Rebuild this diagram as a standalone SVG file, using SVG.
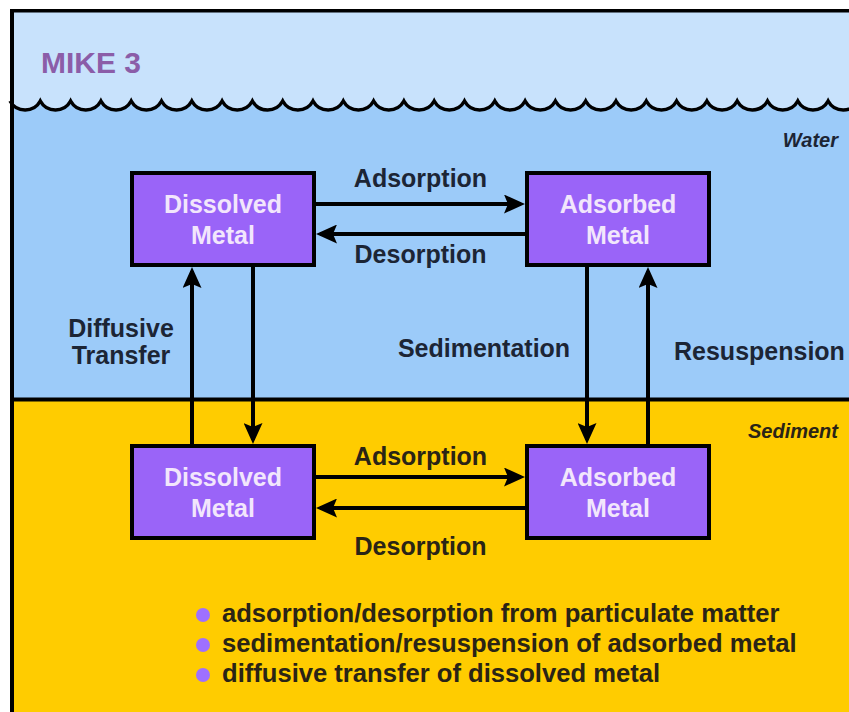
<svg xmlns="http://www.w3.org/2000/svg" width="849" height="712" viewBox="0 0 849 712">
<defs>
<style>
.box{fill:#9A64F8;stroke:#000;stroke-width:4}
.bt{font-family:"Liberation Sans",Arial,sans-serif;font-weight:bold;font-size:25px;fill:#F2E6FC;text-anchor:middle}
.lbl{font-family:"Liberation Sans",Arial,sans-serif;font-weight:bold;font-size:25px;fill:#1C2535}
.lbs{font-family:"Liberation Sans",Arial,sans-serif;font-weight:bold;font-size:25px;fill:#2A2416}
.leg{font-family:"Liberation Sans",Arial,sans-serif;font-weight:bold;font-size:25.6px;fill:#2A2416}
.zone{font-family:"Liberation Sans",Arial,sans-serif;font-weight:bold;font-style:italic;font-size:20px;text-anchor:end}
.conn path{fill:none;stroke:#000;stroke-width:4;marker-end:url(#ah)}
.bul{fill:#9E70FF}
</style>
<marker id="ah" viewBox="0 0 21 19" markerWidth="21" markerHeight="19" refX="17" refY="9.5" orient="auto" markerUnits="userSpaceOnUse">
<path d="M0,0 L21,9.5 L0,19 L4,9.5 Z" fill="#000"/>
</marker>
</defs>
<rect x="0" y="0" width="849" height="712" fill="#fff"/>
<g id="background">
<rect x="12" y="10" width="837" height="102" fill="#C8E2FC"/>
<path d="M10,101 a17.25,17.25 0 0 0 30.3,0 a17.25,17.25 0 0 0 30.3,0 a17.25,17.25 0 0 0 30.3,0 a17.25,17.25 0 0 0 30.3,0 a17.25,17.25 0 0 0 30.3,0 a17.25,17.25 0 0 0 30.3,0 a17.25,17.25 0 0 0 30.3,0 a17.25,17.25 0 0 0 30.3,0 a17.25,17.25 0 0 0 30.3,0 a17.25,17.25 0 0 0 30.3,0 a17.25,17.25 0 0 0 30.3,0 a17.25,17.25 0 0 0 30.3,0 a17.25,17.25 0 0 0 30.3,0 a17.25,17.25 0 0 0 30.3,0 a17.25,17.25 0 0 0 30.3,0 a17.25,17.25 0 0 0 30.3,0 a17.25,17.25 0 0 0 30.3,0 a17.25,17.25 0 0 0 30.3,0 a17.25,17.25 0 0 0 30.3,0 a17.25,17.25 0 0 0 30.3,0 a17.25,17.25 0 0 0 30.3,0 a17.25,17.25 0 0 0 30.3,0 a17.25,17.25 0 0 0 30.3,0 a17.25,17.25 0 0 0 30.3,0 a17.25,17.25 0 0 0 30.3,0 a17.25,17.25 0 0 0 30.3,0 a17.25,17.25 0 0 0 30.3,0 a17.25,17.25 0 0 0 30.3,0 L860,400 L10,400 Z" fill="#9CCBF9"/>
<path d="M10,101 a17.25,17.25 0 0 0 30.3,0 a17.25,17.25 0 0 0 30.3,0 a17.25,17.25 0 0 0 30.3,0 a17.25,17.25 0 0 0 30.3,0 a17.25,17.25 0 0 0 30.3,0 a17.25,17.25 0 0 0 30.3,0 a17.25,17.25 0 0 0 30.3,0 a17.25,17.25 0 0 0 30.3,0 a17.25,17.25 0 0 0 30.3,0 a17.25,17.25 0 0 0 30.3,0 a17.25,17.25 0 0 0 30.3,0 a17.25,17.25 0 0 0 30.3,0 a17.25,17.25 0 0 0 30.3,0 a17.25,17.25 0 0 0 30.3,0 a17.25,17.25 0 0 0 30.3,0 a17.25,17.25 0 0 0 30.3,0 a17.25,17.25 0 0 0 30.3,0 a17.25,17.25 0 0 0 30.3,0 a17.25,17.25 0 0 0 30.3,0 a17.25,17.25 0 0 0 30.3,0 a17.25,17.25 0 0 0 30.3,0 a17.25,17.25 0 0 0 30.3,0 a17.25,17.25 0 0 0 30.3,0 a17.25,17.25 0 0 0 30.3,0 a17.25,17.25 0 0 0 30.3,0 a17.25,17.25 0 0 0 30.3,0 a17.25,17.25 0 0 0 30.3,0 a17.25,17.25 0 0 0 30.3,0" fill="none" stroke="#000" stroke-width="3.5"/>
<rect x="10" y="400" width="839" height="312" fill="#FFCC00"/>
<line x1="10" y1="399.5" x2="849" y2="399.5" stroke="#000" stroke-width="4"/>
<line x1="10" y1="10.8" x2="849" y2="10.8" stroke="#000" stroke-width="3.6"/>
<line x1="12" y1="9" x2="12" y2="712" stroke="#000" stroke-width="4"/>
</g>
<text x="41" y="73" font-family="'Liberation Sans',Arial,sans-serif" font-weight="bold" font-size="30" fill="#8B5DA8">MIKE 3</text>
<text class="zone" x="838" y="147" fill="#1C2535">Water</text>
<text class="zone" x="838" y="438" fill="#2A2416">Sediment</text>
<g class="conn" id="connectors">
<path d="M316,204 H521"/>
<path d="M525,234 H320"/>
<path d="M316,477 H521"/>
<path d="M525,508 H320"/>
<path d="M192,444 V271"/>
<path d="M253,267 V440"/>
<path d="M587,267 V440"/>
<path d="M648,444 V271"/>
</g>
<g id="connector-labels">
<text class="lbl" x="420.5" y="187" text-anchor="middle">Adsorption</text>
<text class="lbl" x="420.5" y="263" text-anchor="middle">Desorption</text>
<text class="lbs" x="420.5" y="465" text-anchor="middle">Adsorption</text>
<text class="lbs" x="420.5" y="555" text-anchor="middle">Desorption</text>
<text class="lbl" x="121" y="337" text-anchor="middle" font-size="24">Diffusive</text>
<text class="lbl" x="121" y="364" text-anchor="middle" font-size="24">Transfer</text>
<text class="lbl" x="484" y="357" text-anchor="middle">Sedimentation</text>
<text class="lbl" x="674" y="360">Resuspension</text>
</g>
<g id="water-dissolved">
<rect class="box" x="132" y="173" width="182" height="92"/>
<text class="bt" x="223" y="213">Dissolved</text>
<text class="bt" x="223" y="244">Metal</text>
</g>
<g id="water-adsorbed">
<rect class="box" x="527" y="173" width="182" height="92"/>
<text class="bt" x="618" y="213">Adsorbed</text>
<text class="bt" x="618" y="244">Metal</text>
</g>
<g id="sediment-dissolved">
<rect class="box" x="132" y="446" width="182" height="92"/>
<text class="bt" x="223" y="486">Dissolved</text>
<text class="bt" x="223" y="517">Metal</text>
</g>
<g id="sediment-adsorbed">
<rect class="box" x="527" y="446" width="182" height="92"/>
<text class="bt" x="618" y="486">Adsorbed</text>
<text class="bt" x="618" y="517">Metal</text>
</g>
<g id="legend">
<circle class="bul" cx="203" cy="615" r="7"/>
<circle class="bul" cx="203" cy="645" r="7"/>
<circle class="bul" cx="203" cy="675" r="7"/>
<text class="leg" x="222" y="622">adsorption/desorption from particulate matter</text>
<text class="leg" x="222" y="652">sedimentation/resuspension of adsorbed metal</text>
<text class="leg" x="222" y="682">diffusive transfer of dissolved metal</text>
</g>
</svg>
